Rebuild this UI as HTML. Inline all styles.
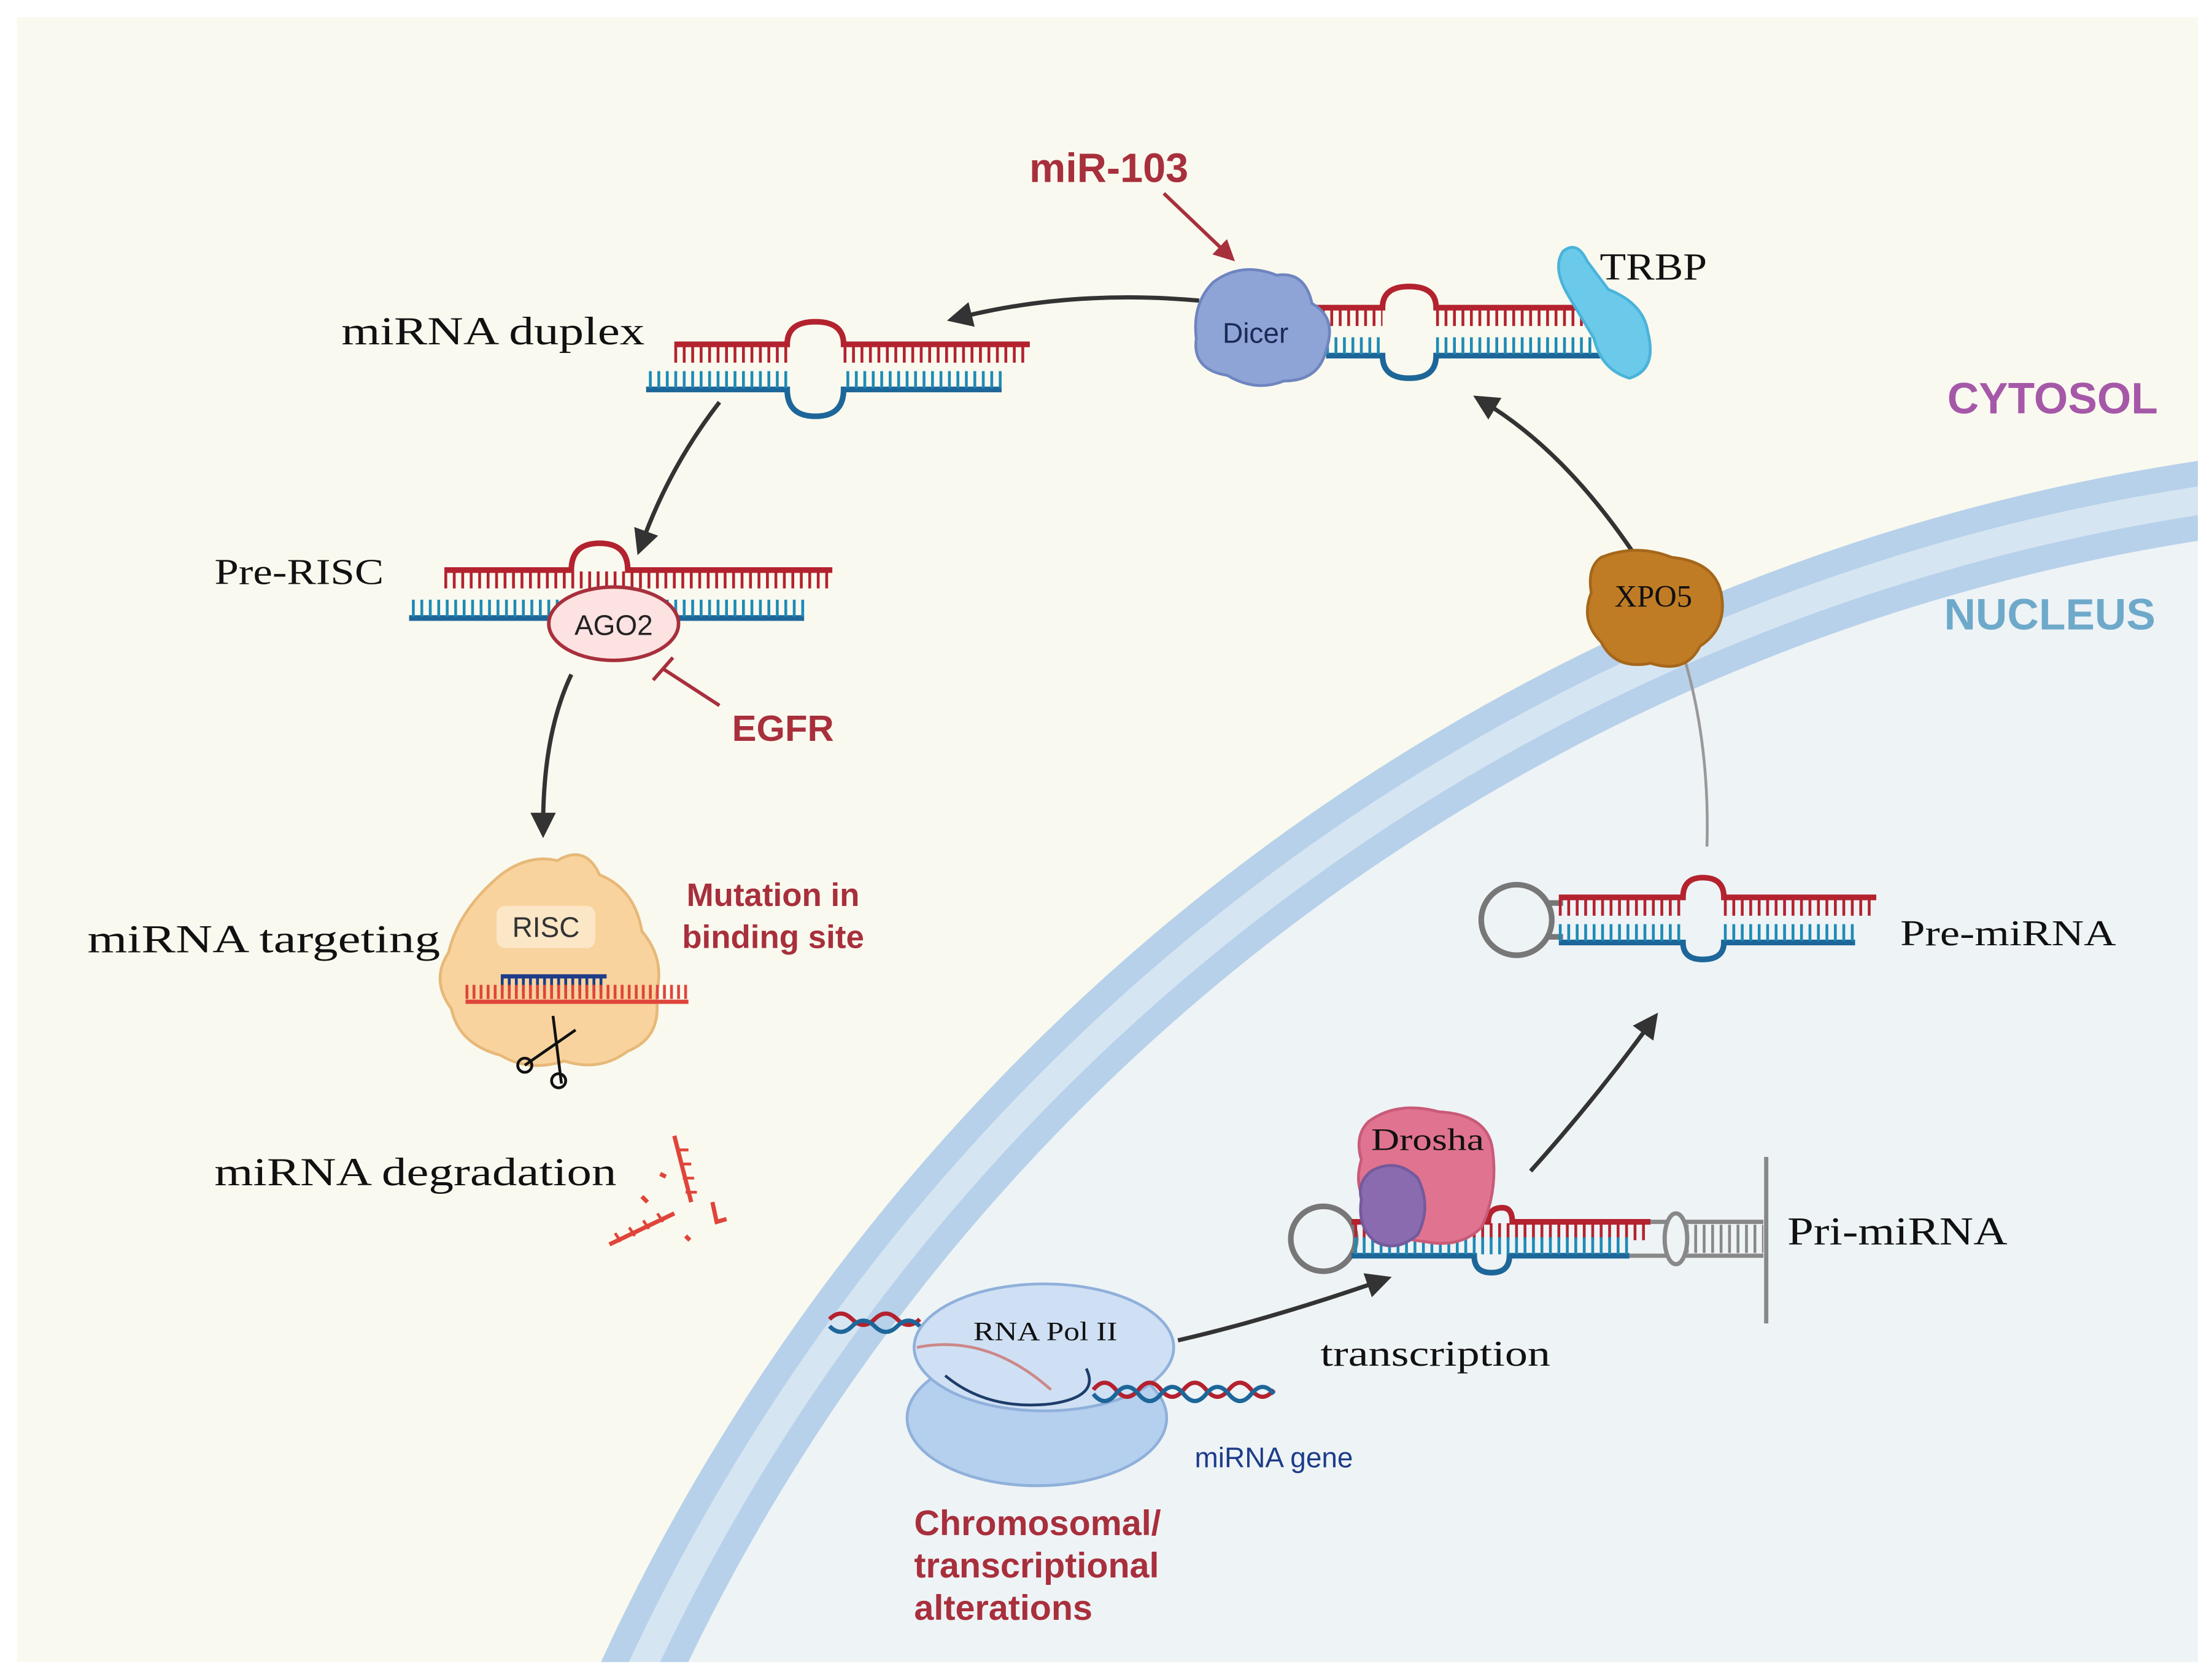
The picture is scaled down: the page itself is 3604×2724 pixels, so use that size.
<!DOCTYPE html>
<html><head><meta charset="utf-8"><style>
html,body{margin:0;padding:0;background:#fff;width:3604px;height:2724px;overflow:hidden}
svg{display:block}
.serif{font-family:"Liberation Serif",serif;fill:#111}
.red{font-family:"Liberation Sans",sans-serif;font-weight:bold;fill:#a82f3c}
</style></head><body>
<svg width="3604" height="2724" viewBox="0 0 1568 1185" xmlns="http://www.w3.org/2000/svg">
<defs>
<clipPath id="c"><rect x="12" y="12" width="1546" height="1166"/></clipPath>
<marker id="ah" viewBox="0 0 10 10" refX="5" refY="5" markerWidth="6" markerHeight="6" orient="auto"><path d="M0,0 L10,5 L0,10 z" fill="#333"/></marker>
<marker id="ahr" viewBox="0 0 10 10" refX="5" refY="5" markerWidth="6" markerHeight="6" orient="auto"><path d="M0,0 L10,5 L0,10 z" fill="#a82f3c"/></marker>
</defs>
<rect width="1568" height="1185" fill="#fff"/>
<g clip-path="url(#c)">
<rect x="12" y="12" width="1546" height="1166" fill="#f9f9ef"/>
<circle cx="1780" cy="1800" r="1490" fill="#eef3f6"/>
<circle cx="1780" cy="1800" r="1481" fill="none" stroke="#b7d1ea" stroke-width="18"/>
<circle cx="1780" cy="1800" r="1462" fill="none" stroke="#d6e5f2" stroke-width="20"/>
<circle cx="1780" cy="1800" r="1443" fill="none" stroke="#b7d1ea" stroke-width="18"/>
</g>

<g fill="none" stroke="#333" stroke-width="3">
<path d="M850,213 Q760,205 680,225" marker-end="url(#ah)"/>
<path d="M510,285 Q475,330 455,385" marker-end="url(#ah)"/>
<path d="M405,478 Q385,520 385,585" marker-end="url(#ah)"/>
<path d="M1160,395 Q1110,320 1052,285" marker-end="url(#ah)"/>
<path d="M1085,830 Q1130,780 1170,725" marker-end="url(#ah)"/>
<path d="M835,950 Q900,935 978,908" marker-end="url(#ah)"/>
</g>
<path d="M1195,470 Q1212,530 1210,600" fill="none" stroke="#999" stroke-width="2"/>
<path d="M825,137 L870,180" stroke="#a82f3c" stroke-width="2.5" marker-end="url(#ahr)"/>
<path d="M510,500 L470,474 M463,482 L477,466" stroke="#a82f3c" stroke-width="2.5" fill="none"/>

<g fill="none">
<path d="M478,244 H558 Q558,228 578,228 Q598,228 598,244 H730" stroke="#b3222e" stroke-width="4"/>
<path d="M478,251 H560 M598,251 H728" stroke="#b3222e" stroke-width="12" stroke-dasharray="2 4"/>
<path d="M458,276 H558 Q558,295 578,295 Q598,295 598,276 H710" stroke="#1d6699" stroke-width="4"/>
<path d="M460,269 H558 M600,269 H710" stroke="#1d8bb5" stroke-width="12" stroke-dasharray="2 4"/>
</g>
<g fill="none">
<path d="M925,218 H980 Q980,203 999,203 Q1018,203 1018,218 H1130" stroke="#b3222e" stroke-width="4"/>
<path d="M925,225 H980 M1018,225 H1128" stroke="#b3222e" stroke-width="12" stroke-dasharray="2 4"/>
<path d="M940,252 H980 Q980,268 999,268 Q1018,268 1018,252 H1140" stroke="#1d6699" stroke-width="4"/>
<path d="M940,245 H980 M1018,245 H1130" stroke="#1d8bb5" stroke-width="12" stroke-dasharray="2 4"/>
</g>
<g fill="none">
<path d="M315,404 H405 Q405,385 425,385 Q445,385 445,404 H590" stroke="#b3222e" stroke-width="4"/>
<path d="M315,411 H590" stroke="#b3222e" stroke-width="12" stroke-dasharray="2 4"/>
<path d="M290,438 H570" stroke="#1d6699" stroke-width="4"/>
<path d="M292,431 H570" stroke="#1d8bb5" stroke-width="12" stroke-dasharray="2 4"/>
</g>
<ellipse cx="435" cy="442" rx="46" ry="26" fill="#fde2e2" stroke="#a82f3c" stroke-width="2.5"/>
<text x="435" y="450" text-anchor="middle" font-family="Liberation Sans,sans-serif" font-size="20" fill="#222">AGO2</text>

<g fill="none">
<circle cx="1075" cy="652" r="25" stroke="#777" stroke-width="4"/>
<path d="M1097,640 H1108 M1097,664 H1108" stroke="#777" stroke-width="4"/>
<path d="M1105,636 H1193 Q1193,622 1207,622 Q1222,622 1222,636 H1330" stroke="#b3222e" stroke-width="4"/>
<path d="M1105,643 H1193 M1222,643 H1328" stroke="#b3222e" stroke-width="12" stroke-dasharray="2 4"/>
<path d="M1105,668 H1193 Q1193,680 1207,680 Q1222,680 1222,668 H1315" stroke="#1d6699" stroke-width="4"/>
<path d="M1105,661 H1193 M1222,661 H1315" stroke="#1d8bb5" stroke-width="12" stroke-dasharray="2 4"/>
</g>
<g fill="none">
<circle cx="938" cy="878" r="23" stroke="#777" stroke-width="4"/>
<path d="M958,866 H1055 Q1055,856 1065,856 Q1072,856 1072,866 H1170" stroke="#b3222e" stroke-width="4"/>
<path d="M960,873 H1168" stroke="#b3222e" stroke-width="12" stroke-dasharray="2 4"/>
<path d="M958,890 H1045 Q1045,902 1057,902 Q1070,902 1070,890 H1155" stroke="#1d6699" stroke-width="4"/>
<path d="M960,883 H1155" stroke="#1d8bb5" stroke-width="12" stroke-dasharray="2 4"/>
<path d="M1170,866 H1250 M1155,890 H1250" stroke="#888" stroke-width="3"/>
<path d="M1195,878 H1250" stroke="#888" stroke-width="20" stroke-dasharray="2 4"/>
<ellipse cx="1188" cy="878" rx="8" ry="18" stroke="#888" stroke-width="3" fill="#eef3f6"/>
<path d="M1252,820 V938" stroke="#888" stroke-width="3"/>
</g>

<g>
<path d="M860,200 Q880,185 905,195 Q925,192 930,215 Q948,225 940,248 Q935,270 910,270 Q890,278 870,266 Q845,262 848,240 Q845,215 860,200z" fill="#8fa4d6" stroke="#6f85c0" stroke-width="2"/>
<text x="890" y="243" text-anchor="middle" font-family="Liberation Sans,sans-serif" font-size="20" fill="#1a2a55">Dicer</text>
<path d="M1108,178 Q1118,170 1125,185 L1140,205 Q1165,215 1168,235 Q1175,262 1155,268 Q1135,262 1130,240 L1112,210 Q1100,190 1108,178z" fill="#6bc9ea" stroke="#4ab3da" stroke-width="2"/>
<path d="M1135,395 Q1160,385 1185,395 Q1215,398 1220,420 Q1225,445 1205,458 Q1195,478 1170,470 Q1145,475 1135,455 Q1120,440 1128,420 Q1125,402 1135,395z" fill="#c07c25" stroke="#a5671a" stroke-width="2"/>
<text x="1172" y="430" text-anchor="middle" class="serif" font-size="22">XPO5</text>
<path d="M970,795 Q990,780 1020,788 Q1055,790 1058,815 Q1062,845 1050,870 Q1035,885 1010,880 Q985,878 975,860 Q958,845 965,822 Q960,805 970,795z" fill="#e0738f" stroke="#c85b78" stroke-width="2"/>
<path d="M972,830 Q990,820 1005,835 Q1015,855 1005,875 Q990,888 975,880 Q962,870 965,850 Q962,838 972,830z" fill="#8a6bb0" stroke="#735a9c" stroke-width="2"/>
<text x="1012" y="815" text-anchor="middle" class="serif" font-size="22" textLength="80" lengthAdjust="spacingAndGlyphs">Drosha</text>
<path d="M355,620 Q375,605 395,610 Q415,598 425,620 Q450,630 455,660 Q472,680 465,705 Q470,735 445,745 Q425,760 400,752 Q375,760 355,748 Q325,740 320,715 Q305,695 318,675 Q325,645 355,620z" fill="#f8d39e" stroke="#e7b878" stroke-width="2"/>
<rect x="352" y="642" width="70" height="30" rx="6" fill="#fbe6c6"/>
<text x="387" y="664" text-anchor="middle" font-family="Liberation Sans,sans-serif" font-size="20" fill="#333">RISC</text>
<path d="M355,692 H430" stroke="#1d3d8a" stroke-width="3"/>
<path d="M355,698 H430" stroke="#1d3d8a" stroke-width="10" stroke-dasharray="2 3"/>
<path d="M330,710 H488" stroke="#e0443a" stroke-width="3"/>
<path d="M330,703 H488" stroke="#e0443a" stroke-width="10" stroke-dasharray="2 3"/>
<path d="M392,720 L398,768 M408,730 L372,755" stroke="#111" stroke-width="2" fill="none"/>
<circle cx="372" cy="755" r="5" fill="none" stroke="#111" stroke-width="2"/><circle cx="396" cy="766" r="5" fill="none" stroke="#111" stroke-width="2"/>
<g stroke="#e0443a" stroke-width="3" fill="none">
<path d="M478,805 L490,852"/><path d="M480,815 h8 M482,825 h8 M484,835 h8 M486,845 h8" stroke-width="2"/>
<path d="M432,882 L478,860"/><path d="M436,874 l4,6 M446,870 l4,6 M456,865 l4,6 M466,860 l4,6" stroke-width="2"/>
<path d="M505,852 L508,866 L515,864"/><path d="M455,848 l4,4 M468,832 l4,2 M486,876 l3,3"/>
</g>
<ellipse cx="735" cy="1005" rx="92" ry="48" fill="#b5cfee" stroke="#8fb0da" stroke-width="2"/>
<ellipse cx="740" cy="955" rx="92" ry="45" fill="#cfe0f4" stroke="#8fb0da" stroke-width="2"/>
<path d="M670,975 Q700,1000 745,995 Q780,990 770,970" fill="none" stroke="#1d3d6a" stroke-width="2"/>
<text x="741" y="950" text-anchor="middle" class="serif" font-size="19" textLength="102" lengthAdjust="spacingAndGlyphs">RNA Pol II</text>
<path d="M588,935 q8,-8 16,0 t16,0 t16,0 t16,0" fill="none" stroke="#b3222e" stroke-width="3"/>
<path d="M588,940 q8,8 16,0 t16,0 t16,0 t16,0" fill="none" stroke="#1d6699" stroke-width="3"/>
<path d="M775,985 q8,-10 16,0 t16,0 t16,0 t16,0 t16,0 t16,0 t16,0 t16,0" fill="none" stroke="#b3222e" stroke-width="3"/>
<path d="M775,988 q8,10 16,0 t16,0 t16,0 t16,0 t16,0 t16,0 t16,0 t16,0" fill="none" stroke="#1d6699" stroke-width="3"/>
<path d="M650,955 Q700,945 745,985" fill="none" stroke="#c88" stroke-width="2"/>
</g>

<text x="786" y="129" text-anchor="middle" class="red" font-size="29">miR-103</text>
<text x="242" y="244" class="serif" font-size="28" textLength="215" lengthAdjust="spacingAndGlyphs">miRNA duplex</text>
<text x="1134" y="198" class="serif" font-size="27" textLength="76" lengthAdjust="spacingAndGlyphs">TRBP</text>
<text x="1455" y="293" text-anchor="middle" font-family="Liberation Sans,sans-serif" font-weight="bold" font-size="31" fill="#a658a8">CYTOSOL</text>
<text x="1453" y="446" text-anchor="middle" font-family="Liberation Sans,sans-serif" font-weight="bold" font-size="31" fill="#6ea9ca">NUCLEUS</text>
<text x="152" y="414" class="serif" font-size="26" textLength="120" lengthAdjust="spacingAndGlyphs">Pre-RISC</text>
<text x="555" y="525" text-anchor="middle" class="red" font-size="26">EGFR</text>
<text x="62" y="675" class="serif" font-size="28" textLength="250" lengthAdjust="spacingAndGlyphs">miRNA targeting</text>
<text x="548" y="642" text-anchor="middle" class="red" font-size="23">Mutation in</text>
<text x="548" y="672" text-anchor="middle" class="red" font-size="23">binding site</text>
<text x="152" y="840" class="serif" font-size="28" textLength="285" lengthAdjust="spacingAndGlyphs">miRNA degradation</text>
<text x="1347" y="670" class="serif" font-size="26" textLength="153" lengthAdjust="spacingAndGlyphs">Pre-miRNA</text>
<text x="1267" y="882" class="serif" font-size="28" textLength="156" lengthAdjust="spacingAndGlyphs">Pri-miRNA</text>
<text x="936" y="968" class="serif" font-size="26" textLength="163" lengthAdjust="spacingAndGlyphs">transcription</text>
<text x="903" y="1040" text-anchor="middle" font-family="Liberation Sans,sans-serif" font-size="20" fill="#1d3d8a">miRNA gene</text>
<text x="648" y="1088" class="red" font-size="25">Chromosomal/</text>
<text x="648" y="1118" class="red" font-size="25">transcriptional</text>
<text x="648" y="1148" class="red" font-size="25">alterations</text>
</svg>
</body></html>
